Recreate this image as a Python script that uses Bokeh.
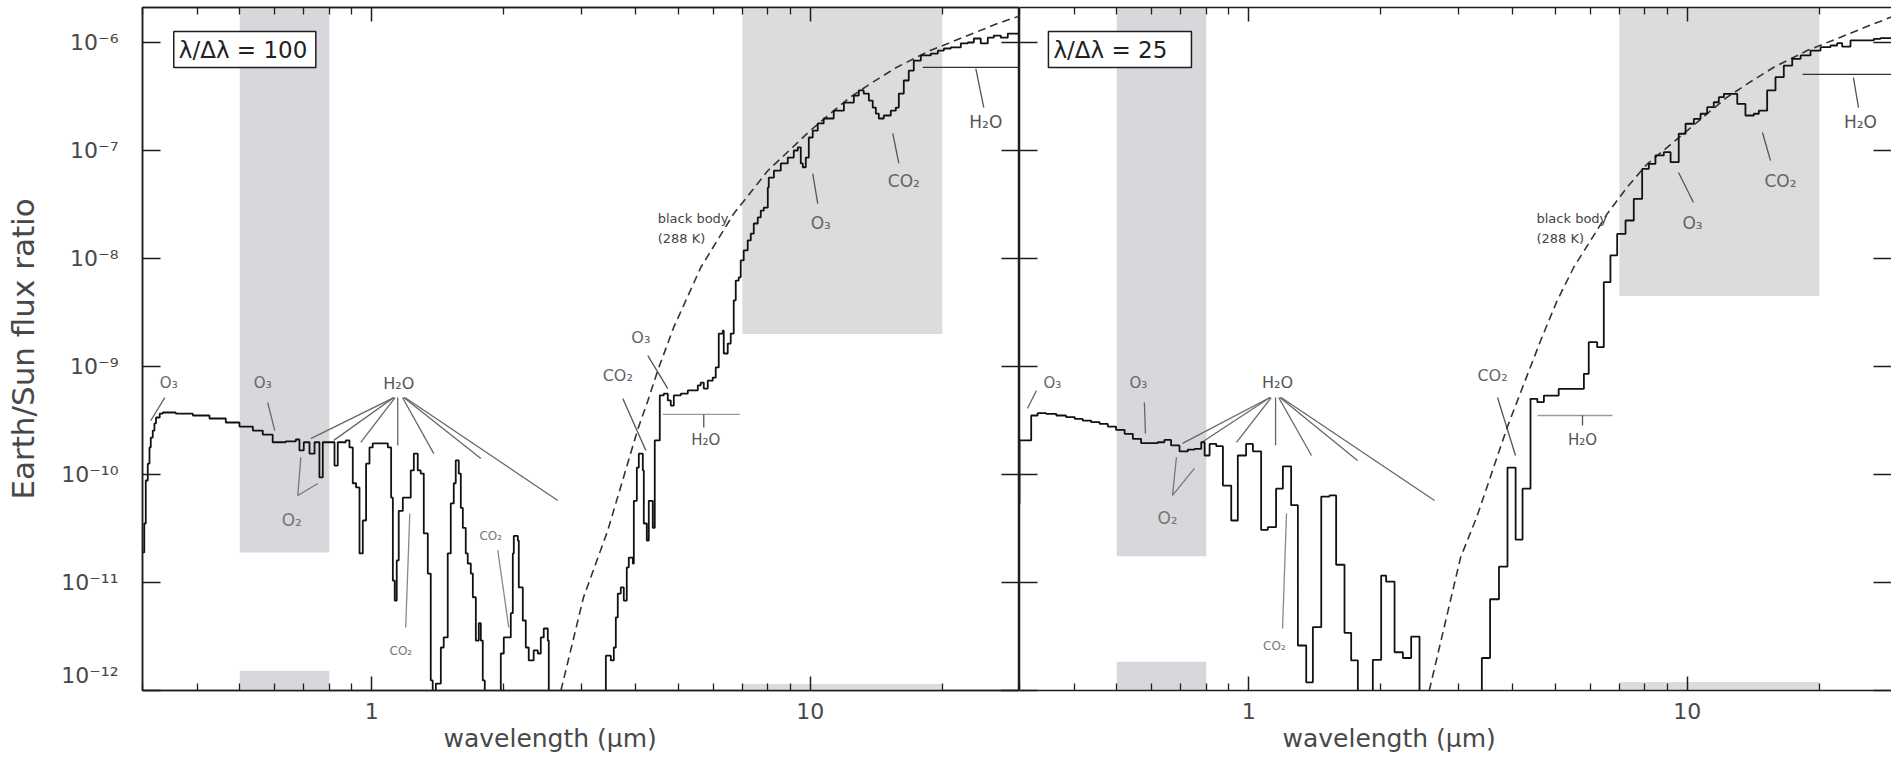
from bokeh.plotting import figure
from bokeh.models import LogAxis, FixedTicker, CustomJSTickFormatter, Label, Title
from bokeh.layouts import row
from bokeh.embed import file_html
from bokeh.resources import INLINE

# ---------------- data ----------------
# lambda/dlambda = 100 spectrum: wavelength (um) and Earth/Sun flux ratio
WL_R100 = [0.300, 0.3028, 0.3052, 0.3084, 0.3112, 0.3133, 0.3166, 0.3194, 0.3221, 0.3284,
           0.3337, 0.3573, 0.3907, 0.4265, 0.4646, 0.4992, 0.5355, 0.5641, 0.5943, 0.6366,
           0.6711, 0.684, 0.6996, 0.7211, 0.7404, 0.7596, 0.7731, 0.8008, 0.8222, 0.8364,
           0.8724, 0.8894, 0.905, 0.921, 0.9375, 0.9539, 0.9705, 0.988, 1.005, 1.059,
           1.088, 1.107, 1.117, 1.128, 1.140, 1.152, 1.177, 1.208, 1.227, 1.247,
           1.273, 1.293, 1.314, 1.342, 1.363, 1.377, 1.400, 1.437, 1.459, 1.490,
           1.514, 1.538, 1.554, 1.579, 1.596, 1.613, 1.638, 1.655, 1.682, 1.700,
           1.727, 1.754, 1.773, 1.791, 1.810, 1.948, 1.969, 2.000, 2.042, 2.075,
           2.097, 2.108, 2.153, 2.164, 2.210, 2.245, 2.280, 2.340, 2.391, 2.429,
           2.467, 2.520, 2.533, 3.400, 3.418, 3.508, 3.564, 3.602, 3.639, 3.697,
           3.756, 3.815, 3.856, 3.938, 3.959, 4.022, 4.064, 4.150, 4.172, 4.238,
           4.282, 4.373, 4.419, 4.489, 4.537, 4.633, 4.732, 4.807, 4.884, 5.067,
           5.256, 5.540, 5.627, 5.716, 5.837, 5.992, 6.087, 6.184, 6.315, 6.348,
           6.482, 6.585, 6.690, 6.761, 6.868, 6.940, 7.050, 7.200, 7.316, 7.432,
           7.590, 7.710, 7.834, 8.000, 8.040, 8.260, 8.565, 8.886, 9.170, 9.365,
           9.513, 9.614, 9.766, 9.922, 10.13, 10.40, 10.73, 11.31, 11.93, 12.57,
           12.90, 13.24, 13.60, 13.88, 14.11, 14.33, 14.71, 15.26, 15.67, 15.92,
           16.34, 16.77, 17.22, 17.87, 18.83, 19.54, 20.16, 20.91, 22.04, 22.87,
           23.60, 24.48, 25.40, 26.21, 27.19, 28.21, 30.0]
F_R100 = [1.9e-11, 3.52e-11, 8.8e-11, 1.26e-10, 1.78e-10, 2.2e-10, 2.55e-10, 2.97e-10, 3.37e-10, 3.67e-10,
          3.75e-10, 3.67e-10, 3.52e-10, 3.30e-10, 3.03e-10, 2.78e-10, 2.55e-10, 2.34e-10, 1.99e-10, 2.03e-10,
          2.11e-10, 1.67e-10, 1.99e-10, 1.56e-10, 1.99e-10, 9.4e-11, 1.99e-10, 1.99e-10, 1.21e-10, 1.99e-10,
          2.07e-10, 1.78e-10, 8.3e-11, 7.6e-11, 1.86e-11, 3.75e-11, 1.26e-10, 1.78e-10, 1.94e-10, 1.94e-10,
          1.78e-10, 6.1e-11, 1.04e-11, 6.8e-12, 1.6e-11, 4.6e-11, 6.1e-11, 6.1e-11, 1.09e-10, 1.56e-10,
          1.09e-10, 1.02e-10, 2.85e-11, 1.21e-11, 1.24e-12, 5e-13, 1.16e-12, 2.5e-12, 3.1e-12, 1.86e-11,
          5.4e-11, 8.3e-11, 1.35e-10, 1.02e-10, 4.9e-11, 3.2e-11, 1.86e-11, 1.5e-11, 1.21e-11, 7.3e-12,
          2.9e-12, 4.2e-12, 2.9e-12, 1.24e-12, 5e-13, 5e-13, 2.2e-12, 3.1e-12, 3.1e-12, 5.2e-12,
          1.86e-11, 2.7e-11, 2.45e-11, 9.0e-12, 4.45e-12, 2.5e-12, 1.9e-12, 2.35e-12, 2.2e-12, 3.1e-12,
          3.75e-12, 2.9e-12, 5e-13, 5e-13, 2.1e-12, 1.9e-12, 2.5e-12, 4.75e-12, 7.9e-12, 9.0e-12,
          6.8e-12, 1.38e-11, 1.7e-11, 1.5e-11, 5.7e-11, 1.16e-10, 1.56e-10, 1.09e-10, 3.52e-11, 2.45e-11,
          5.7e-11, 3.2e-11, 2.07e-10, 2.07e-10, 5.4e-10, 5.6e-10, 4.85e-10, 4.35e-10, 5.4e-10, 5.6e-10,
          6.0e-10, 6.7e-10, 7.1e-10, 6.25e-10, 7.4e-10, 7.9e-10, 9.8e-10, 2.02e-9, 2.15e-9, 1.32e-9,
          1.63e-9, 2.02e-9, 4.1e-9, 6.25e-9, 6.7e-9, 9.6e-9, 1.19e-8, 1.47e-8, 1.70e-8, 2.11e-8,
          2.4e-8, 2.78e-8, 2.96e-8, 4.54e-8, 5.6e-8, 6.5e-8, 7.6e-8, 8.6e-8, 1.0e-7, 1.07e-7,
          7.6e-8, 7.0e-8, 8.6e-8, 1.32e-7, 1.53e-7, 1.78e-7, 1.98e-7, 2.34e-7, 2.78e-7, 3.23e-7,
          3.6e-7, 3.37e-7, 2.9e-7, 2.5e-7, 2.2e-7, 1.98e-7, 2.11e-7, 2.34e-7, 2.5e-7, 3.37e-7,
          4.45e-7, 5.5e-7, 6.8e-7, 7.6e-7, 7.9e-7, 8.4e-7, 8.8e-7, 9.0e-7, 9.8e-7, 1.0e-6,
          1.09e-6, 9.8e-7, 1.11e-6, 1.16e-6, 1.11e-6, 1.21e-6, 1.21e-6]

# lambda/dlambda = 25 spectrum: bin left edges (um) and binned flux ratio
WL_R25 = [0.29, 0.300, 0.319, 0.330, 0.345, 0.364, 0.383, 0.401, 0.418, 0.437,
          0.457, 0.477, 0.498, 0.521, 0.544, 0.568, 0.599, 0.620, 0.642, 0.665,
          0.695, 0.726, 0.752, 0.779, 0.793, 0.814, 0.843, 0.873, 0.912, 0.944,
          0.986, 1.022, 1.067, 1.105, 1.154, 1.196, 1.249, 1.294, 1.352, 1.400,
          1.463, 1.528, 1.582, 1.653, 1.712, 1.773, 1.918, 2.004, 2.057, 2.150,
          2.246, 2.346, 2.451, 3.400, 3.550, 3.720, 3.890, 4.060, 4.210, 4.390,
          4.550, 4.710, 5.090, 5.810, 5.960, 6.230, 6.450, 6.680, 6.920, 7.230,
          7.550, 7.890, 8.170, 8.460, 8.840, 9.160, 9.560, 9.910, 10.35, 10.72,
          11.10, 11.49, 11.80, 12.12, 13.00, 13.57, 14.18, 14.56, 15.21, 15.89,
          16.60, 17.35, 18.13, 19.10, 20.13, 21.21, 21.97, 22.55, 23.56, 26.63,
          27.57, 30.0]
F_R25 = [5.4e-11, 2.07e-10, 3.52e-10, 3.70e-10, 3.65e-10, 3.52e-10, 3.40e-10, 3.27e-10, 3.16e-10, 3.05e-10,
         2.94e-10, 2.78e-10, 2.59e-10, 2.38e-10, 2.14e-10, 1.95e-10, 1.95e-10, 1.99e-10, 2.09e-10, 1.86e-10,
         1.64e-10, 1.70e-10, 1.73e-10, 1.99e-10, 1.50e-10, 1.92e-10, 1.83e-10, 7.9e-11, 3.75e-11, 1.50e-10,
         1.92e-10, 1.64e-10, 3.07e-11, 3.25e-11, 7.4e-11, 1.19e-10, 5.2e-11, 2.61e-12, 1.19e-12, 3.86e-12,
         6.25e-11, 6.4e-11, 1.46e-11, 3.42e-12, 1.90e-12, 5e-13, 1.92e-12, 1.16e-11, 1.02e-11, 2.26e-12,
         2.0e-12, 3.16e-12, 5e-13, 2.0e-12, 7e-12, 1.4e-11, 1.16e-10, 2.5e-11, 7.4e-11, 5.02e-10,
         4.68e-10, 5.38e-10, 6.2e-10, 8.55e-10, 1.68e-9, 1.51e-9, 6.04e-9, 1.07e-8, 1.69e-8, 2.25e-8,
         3.56e-8, 6.76e-8, 7.53e-8, 9.0e-8, 9.66e-8, 7.8e-8, 1.43e-7, 1.77e-7, 1.96e-7, 2.19e-7,
         2.52e-7, 2.8e-7, 3.12e-7, 3.35e-7, 2.7e-7, 2.11e-7, 2.19e-7, 2.34e-7, 3.6e-7, 4.78e-7,
         6.12e-7, 7.07e-7, 7.59e-7, 8.43e-7, 9.06e-7, 9.38e-7, 9.86e-7, 9.18e-7, 1.045e-6, 1.08e-6,
         1.10e-6, 1.10e-6]

# 288 K black body curve as drawn in each panel
BB_WL_L = [2.70, 3.04, 3.45, 4.04, 4.26, 4.49, 4.88, 5.63, 6.69, 8.0, 10.0, 11.1, 12.33, 13.7,
           15.75, 18.77, 22.36, 26.63, 30.0]
BB_F_L = [1e-12, 7.3e-12, 3.0e-11, 2.6e-10, 4.8e-10, 9.2e-10, 2.3e-9, 8.3e-9, 2.6e-8, 6.5e-8,
          1.53e-7, 2.19e-7, 3.12e-7, 4.14e-7, 5.9e-7, 8.43e-7, 1.12e-6, 1.49e-6, 1.76e-6]
BB_WL_R = [2.58, 3.04, 3.32, 3.885, 4.24, 4.63, 5.05, 5.51, 6.02, 6.57, 7.29, 8.10, 9.0, 10.0,
           11.1, 12.33, 13.7, 15.75, 18.77, 22.36, 26.63, 29.2]
BB_F_R = [1e-12, 1.7e-11, 4.17e-11, 2.74e-10, 6.9e-10, 1.74e-9, 4.08e-9, 8.3e-9, 1.47e-8, 2.6e-8,
          4.57e-8, 7.5e-8, 1.07e-7, 1.53e-7, 2.19e-7, 3.12e-7, 4.14e-7, 5.9e-7, 8.43e-7, 1.12e-6,
          1.49e-6, 1.72e-6]

# shaded wavelength bands (um) and their lower / upper flux limits
BAND_LEFT = [0.5, 0.5, 7.0, 7.0]
BAND_RIGHT = [0.8, 0.8, 20.0, 20.0]
BAND_BOTTOM_L = [1.9e-11, 1e-12, 2.0e-9, 1e-12]
BAND_TOP_L = [3e-6, 1.52e-12, 3e-6, 1.15e-12]
BAND_BOTTOM_R = [1.75e-11, 1e-12, 4.5e-9, 1e-12]
BAND_TOP_R = [3e-6, 1.85e-12, 3e-6, 1.2e-12]

X_MAJOR = [1, 10]
X_MINOR = [0.3, 0.4, 0.5, 0.6, 0.7, 0.8, 0.9, 2, 3, 4, 5, 6, 7, 8, 9, 20, 30]
Y_MAJOR = [1e-12, 1e-11, 1e-10, 1e-9, 1e-8, 1e-7, 1e-6]

assert len(WL_R100) == len(F_R100)
assert len(WL_R25) == len(F_R25)
assert len(BB_WL_L) == len(BB_F_L)
assert len(BB_WL_R) == len(BB_F_R)

# ---------------- annotations ----------------
# (x0, y0, x1, y1, colour)
SEG_L = [
    (0.3372, 5.16e-10, 0.3133, 3.16e-10, "#666666"),
    (0.579, 4.64e-10, 0.6008, 2.55e-10, "#666666"),
    (1.123, 5.16e-10, 0.7259, 2.15e-10, "#666666"),
    (1.123, 5.16e-10, 0.8190, 2.07e-10, "#666666"),
    (1.130, 5.16e-10, 0.9438, 1.98e-10, "#666666"),
    (1.146, 5.16e-10, 1.146, 1.86e-10, "#666666"),
    (1.175, 5.16e-10, 1.385, 1.56e-10, "#666666"),
    (1.183, 5.16e-10, 1.773, 1.41e-10, "#666666"),
    (1.190, 5.16e-10, 2.656, 5.74e-11, "#666666"),
    (0.6781, 6.4e-11, 0.6889, 1.44e-10, "#777777"),
    (0.6781, 6.4e-11, 0.7532, 8.26e-11, "#777777"),
    (1.195, 3.83e-12, 1.221, 4.35e-11, "#888888"),
    (1.938, 1.98e-11, 2.053, 3.83e-12, "#888888"),
    (10.13, 6.12e-8, 10.40, 3.23e-8, "#555555"),
    (15.42, 1.44e-7, 15.92, 7.6e-8, "#555555"),
    (18.06, 5.88e-7, 30.0, 5.88e-7, "#333333"),
    (23.85, 5.74e-7, 24.87, 2.5e-7, "#555555"),
    (4.261, 1.26e-9, 4.732, 6.25e-10, "#555555"),
    (3.736, 5.06e-10, 4.217, 1.67e-10, "#555555"),
    (4.609, 3.6e-10, 6.907, 3.6e-10, "#9a9a9a"),
    (5.716, 3.6e-10, 5.716, 2.72e-10, "#555555"),
]
SEG_R = [
    (0.328, 6.0e-10, 0.3128, 4.08e-10, "#666666"),
    (0.578, 4.64e-10, 0.5812, 2.4e-10, "#666666"),
    (1.118, 5.16e-10, 0.706, 1.94e-10, "#666666"),
    (1.118, 5.16e-10, 0.7802, 1.98e-10, "#666666"),
    (1.125, 5.16e-10, 0.9374, 1.98e-10, "#666666"),
    (1.151, 5.16e-10, 1.151, 1.86e-10, "#666666"),
    (1.170, 5.16e-10, 1.390, 1.5e-10, "#666666"),
    (1.178, 5.16e-10, 1.770, 1.35e-10, "#666666"),
    (1.185, 5.16e-10, 2.652, 5.74e-11, "#666666"),
    (0.6699, 6.4e-11, 0.684, 1.44e-10, "#777777"),
    (0.6699, 6.4e-11, 0.7519, 1.14e-10, "#777777"),
    (1.194, 3.75e-12, 1.219, 4.35e-11, "#888888"),
    (3.692, 5.16e-10, 4.057, 1.5e-10, "#555555"),
    (9.55, 6.25e-8, 10.33, 3.3e-8, "#555555"),
    (14.84, 1.47e-7, 15.48, 8.07e-8, "#555555"),
    (18.31, 5.06e-7, 30.0, 5.06e-7, "#333333"),
    (23.93, 4.74e-7, 24.57, 2.5e-7, "#555555"),
    (4.554, 3.52e-10, 6.753, 3.52e-10, "#9a9a9a"),
    (5.768, 3.52e-10, 5.768, 2.84e-10, "#555555"),
]
# (x, y, text, font px, colour)
LAB_L = [
    (0.3444, 6.97e-10, "O\u2083", 15, "#666666"),
    (0.5641, 6.97e-10, "O\u2083", 15, "#666666"),
    (1.152, 6.97e-10, "H\u2082O", 16, "#555555"),
    (0.6571, 3.83e-11, "O\u2082", 17, "#777777"),
    (1.165, 2.34e-12, "CO\u2082", 12, "#777777"),
    (1.868, 2.72e-11, "CO\u2082", 12, "#777777"),
    (10.57, 2.15e-8, "O\u2083", 17, "#666666"),
    (16.34, 5.27e-8, "CO\u2082", 17, "#666666"),
    (25.13, 1.82e-7, "H\u2082O", 17, "#555555"),
    (4.107, 1.86e-9, "O\u2083", 16, "#666666"),
    (3.639, 8.26e-10, "CO\u2082", 16, "#666666"),
    (5.777, 2.07e-10, "H\u2082O", 15, "#555555"),
]
LAB_R = [
    (0.3566, 6.97e-10, "O\u2083", 15, "#666666"),
    (0.5603, 6.97e-10, "O\u2083", 15, "#666666"),
    (1.163, 7.1e-10, "H\u2082O", 16, "#555555"),
    (0.6526, 3.92e-11, "O\u2082", 17, "#777777"),
    (1.144, 2.61e-12, "CO\u2082", 12, "#777777"),
    (3.595, 8.26e-10, "CO\u2082", 16, "#666666"),
    (10.28, 2.15e-8, "O\u2083", 17, "#666666"),
    (16.31, 5.27e-8, "CO\u2082", 17, "#666666"),
    (24.83, 1.82e-7, "H\u2082O", 17, "#555555"),
    (5.768, 2.07e-10, "H\u2082O", 15, "#555555"),
]

FONT = "DejaVu Sans"
INK = "#1e1e1e"
TXT = "#484848"
H = 760
TOP = 7
FRAME_H = 683
Y_MIN, Y_MAX = 1e-12, 2.11e-6

Y_FMT = CustomJSTickFormatter(code="""
const e = Math.round(Math.log10(tick));
const m = {'-':'\\u207b','0':'\\u2070','1':'\\u00b9','2':'\\u00b2','3':'\\u00b3','4':'\\u2074',
           '5':'\\u2075','6':'\\u2076','7':'\\u2077','8':'\\u2078','9':'\\u2079'};
const s = '10' + String(e).split('').map(c => m[c]).join('');
return e <= -12 ? s + '\\n\\u00a0' : s;
""")
X_FMT = CustomJSTickFormatter(code="return String(Math.round(tick));")
NO_FMT = CustomJSTickFormatter(code="return '';")


def style_axis(ax, kind, labels, line=True):
    ax.axis_line_color = INK if line else None
    ax.axis_line_width = 1.5
    ax.major_tick_line_color = INK
    ax.major_tick_line_width = 1.5
    ax.minor_tick_line_color = INK
    ax.minor_tick_line_width = 1.3
    ax.major_tick_out = 0
    ax.minor_tick_out = 0
    if kind == "x":
        ax.ticker = FixedTicker(ticks=X_MAJOR, minor_ticks=X_MINOR)
        ax.major_tick_in = 14
        ax.minor_tick_in = 7
    else:
        ax.ticker = FixedTicker(ticks=Y_MAJOR, minor_ticks=[])
        ax.major_tick_in = 18
        ax.minor_tick_in = 0
        ax.minor_tick_line_color = None
    ax.major_label_text_font = FONT
    ax.major_label_text_color = TXT
    if labels:
        ax.formatter = X_FMT if kind == "x" else Y_FMT
        ax.major_label_text_font_size = "22px"
    else:
        ax.formatter = NO_FMT
        ax.major_label_text_font_size = "0px"
        ax.major_label_standoff = 0


def make_panel(width, border_left, x_end, show_y, right_line, bands, wl, fl, bbx, bby,
               segs, labs, box, res_text, bb_text_x, wave_offset):
    p = figure(width=width, height=H, x_axis_type="log", y_axis_type="log",
               x_range=(0.3, x_end), y_range=(Y_MIN, Y_MAX),
               output_backend="svg", toolbar_location=None,
               min_border_left=border_left, min_border_right=0,
               min_border_top=TOP, min_border_bottom=H - TOP - FRAME_H)
    p.grid.visible = False
    p.outline_line_color = INK if right_line else None
    p.outline_line_width = 1.5
    p.background_fill_color = "white"
    p.border_fill_color = "white"

    xb = p.below[0]
    yl = p.left[0]
    top_ax = LogAxis()
    right_ax = LogAxis()
    p.add_layout(top_ax, "above")
    p.add_layout(right_ax, "right")
    style_axis(xb, "x", True)
    style_axis(top_ax, "x", False)
    style_axis(yl, "y", show_y)
    style_axis(right_ax, "y", False, line=right_line)
    xb.major_label_standoff = 12
    if show_y:
        yl.major_label_standoff = 24
        yl.axis_label = "Earth/Sun flux ratio"
        yl.axis_label_text_font = FONT
        yl.axis_label_text_font_size = "31px"
        yl.axis_label_text_font_style = "normal"
        yl.axis_label_text_color = TXT
        yl.axis_label_standoff = 17

    p.add_layout(Title(text="wavelength (\u03bcm)", align="left", offset=wave_offset,
                       text_font=FONT, text_font_size="25px", text_font_style="normal",
                       text_color=TXT, standoff=0), "below")

    bl, br, bb, bt = bands
    cols = ["#d8d8dc", "#d8d8dc", "#dcdcdc", "#dcdcdc"]
    p.quad(left=bl, right=br, bottom=bb, top=bt, fill_color=cols, line_color=None)

    for (x0, y0, x1, y1, c) in segs:
        p.segment(x0=[x0], y0=[y0], x1=[x1], y1=[y1], line_color=c, line_width=1.3)

    p.line(bbx, bby, line_color="#333333", line_width=1.6, line_dash="8 5")
    p.step(wl, fl, mode="after", line_color="#111111", line_width=1.8)

    for (x, y, t, s, c) in labs:
        p.add_layout(Label(x=x, y=y, text=t, text_font=FONT, text_font_size=f"{s}px",
                           text_color=c, text_align="center", text_baseline="middle"))
    for (t, y) in (("black body", 2.34e-8), ("(288 K)", 1.53e-8)):
        p.add_layout(Label(x=bb_text_x, y=y, text=t, text_font=FONT, text_font_size="13px",
                           text_color="#444444", text_align="left", text_baseline="middle"))

    bx0, bx1, by0, by1, tx = box
    p.quad(left=[bx0], right=[bx1], bottom=[by0], top=[by1], fill_color="white",
           line_color=INK, line_width=1.5)
    p.add_layout(Label(x=tx, y=8.6e-7, text=res_text, text_font=FONT, text_font_size="23px",
                       text_color="#222222", text_align="left", text_baseline="middle"))
    return p


p1 = make_panel(1019, 142, 30.0, True, True,
                (BAND_LEFT, BAND_RIGHT, BAND_BOTTOM_L, BAND_TOP_L),
                WL_R100, F_R100, BB_WL_L, BB_F_L, SEG_L, LAB_L,
                (0.3535, 0.7453, 5.87e-7, 1.265e-6, 0.3630), "\u03bb/\u0394\u03bb = 100",
                4.489, 301)
p2 = make_panel(872, 0, 29.22, False, False,
                (BAND_LEFT, BAND_RIGHT, BAND_BOTTOM_R, BAND_TOP_R),
                WL_R25, F_R25, BB_WL_R, BB_F_R, SEG_R, LAB_R,
                (0.3492, 0.740, 5.87e-7, 1.265e-6, 0.3586), "\u03bb/\u0394\u03bb = 25",
                4.53, 263)

layout = row(p1, p2)
open("out.html", "w").write(file_html(layout, INLINE))
